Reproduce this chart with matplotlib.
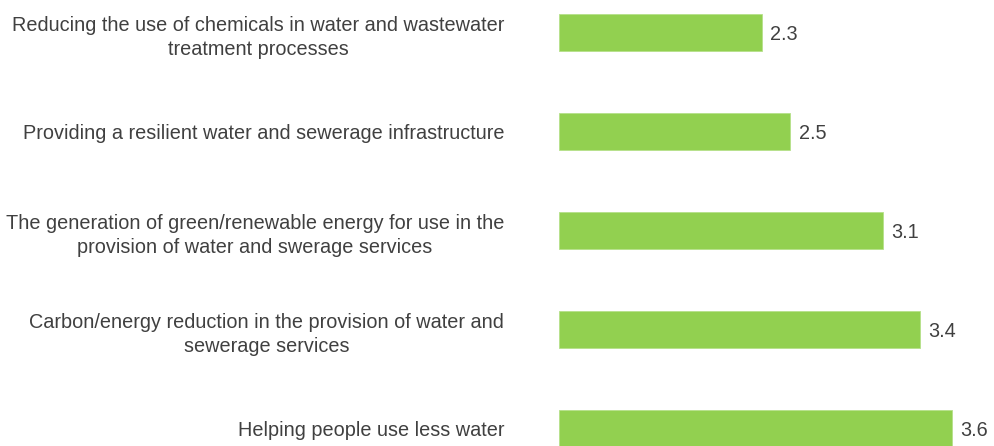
import matplotlib
matplotlib.use("Agg")
import matplotlib.pyplot as plt

categories = [
    "Reducing the use of chemicals in water and wastewater\ntreatment processes",
    "Providing a resilient water and sewerage infrastructure",
    "The generation of green/renewable energy for use in the\nprovision of water and swerage services",
    "Carbon/energy reduction in the provision of water and\nsewerage services",
    "Helping people use less water",
]
values = [2.34, 2.53, 3.14, 3.39, 3.60]

plt.rcParams['font.family'] = ['Liberation Sans', 'DejaVu Sans']
text_color = '#404040'
bar_color = '#92D050'
fs = 14.3

fig = plt.figure(figsize=(9.94, 4.46), dpi=100)
ax = fig.add_axes([559 / 994, 0, 1 - 559 / 994, 1])

ypos = list(range(len(categories)))
ax.barh(ypos, [v - 1 for v in values], left=1, height=0.38, color=bar_color,
        edgecolor='#b5e08a', linewidth=0.6)

for y, v in zip(ypos, values):
    ax.annotate(f"{v:.1f}", xy=(v, y), xytext=(6.0, 0), textcoords='offset points',
                ha='left', va='center_baseline', fontsize=fs, color=text_color)

ax.set_xlim(1, 1 + 435 / 151.2)
ax.set_ylim(4 + 17.5 / 99, -32.7 / 99)
ax.set_yticks(ypos)
ax.set_yticklabels(categories, fontsize=fs, color=text_color)
for lbl in ax.get_yticklabels():
    lbl.set_multialignment('center')
    lbl.set_linespacing(1.36)
    lbl.set_verticalalignment('center_baseline')
ax.tick_params(axis='y', length=0, pad=39.5)
ax.set_xticks([])
for s in ax.spines.values():
    s.set_visible(False)

fig.savefig("out.png", dpi=100)
